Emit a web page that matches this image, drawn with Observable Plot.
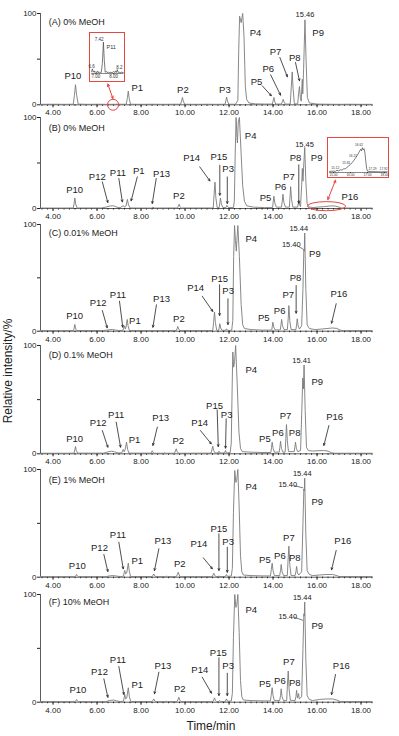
<!DOCTYPE html>
<html><head><meta charset="utf-8">
<script src="https://cdn.jsdelivr.net/npm/d3@7"></script>
<script src="https://cdn.jsdelivr.net/npm/@observablehq/plot@0.6"></script>
<style>
body{margin:0;background:#fff;font-family:"Liberation Sans",Arial,sans-serif;}
#wrap{position:relative;width:399px;height:736px;overflow:hidden;background:#fff;}
#wrap svg{position:absolute;}
#xt{position:absolute;left:0;width:422px;top:719px;text-align:center;font-size:12px;color:#222;}
#yt{position:absolute;left:-92px;top:364px;width:200px;text-align:center;font-size:12px;color:#222;transform:rotate(-90deg);}
</style></head><body><div id="wrap"><div id="xt">Time/min</div><div id="yt">Relative intensity/%</div></div>
<script>
// ---------- data ----------
const xTicks = [4, 6, 8, 10, 12, 14, 16, 18];
const yTicks = [0, 50, 100];
const yTickText = ["0", "", "100"];
const panelTitles = ["(A) 0% MeOH", "(B) 0% MeOH", "(C) 0.01% MeOH", "(D) 0.1% MeOH", "(E) 1% MeOH", "(F) 10% MeOH"];

// chromatogram traces: [time (min), relative intensity (%)]
const traceA = [[3.45,0.5],[4.0,0.6],[4.5,0.5],[4.92,0.6],[4.97,10],[5.02,22],[5.07,11],[5.14,0.8],[5.5,0.5],[6.0,0.6],[6.5,0.5],[7.0,0.6],[7.33,0.6],[7.38,8],[7.42,15],[7.46,7],[7.52,0.6],[8.0,0.5],[8.5,0.6],[9.0,0.5],[9.5,0.6],[9.8,0.6],[9.85,5],[9.88,8],[9.92,4],[9.98,0.6],[10.5,0.5],[11.0,0.6],[11.5,0.5],[11.82,0.6],[11.86,5],[11.89,8.5],[11.93,4],[11.99,0.6],[12.3,0.6],[12.4,5],[12.44,60],[12.48,97],[12.55,90],[12.62,100],[12.68,75],[12.74,20],[12.8,6],[12.9,2],[13.2,1],[13.6,0.8],[13.97,0.8],[14.01,5],[14.04,8],[14.07,4],[14.12,0.8],[14.38,0.8],[14.43,4],[14.46,6],[14.5,3],[14.56,0.8],[14.78,0.8],[14.83,20],[14.87,36],[14.91,18],[14.97,1],[15.12,1],[15.16,12],[15.2,20],[15.24,8],[15.28,4],[15.31,20],[15.33,28],[15.35,12],[15.39,40],[15.45,93],[15.5,50],[15.56,8],[15.65,2],[16.0,0.8],[16.5,0.6],[17.0,0.5],[17.5,0.6],[18.0,0.5],[18.5,0.5]];
const traceB = [[3.45,0.5],[4.5,0.5],[4.92,0.6],[4.96,6],[4.99,11.5],[5.03,5],[5.09,0.6],[6.2,0.6],[6.4,1.5],[6.6,2.8],[6.75,3],[6.9,1.5],[7.05,0.8],[7.15,2.5],[7.2,3],[7.25,1.5],[7.32,3],[7.38,10],[7.43,4],[7.5,0.6],[8.0,0.5],[8.5,0.5],[8.54,1.5],[8.6,0.5],[9.5,0.6],[9.66,0.6],[9.7,3],[9.73,4.7],[9.77,2],[9.83,0.6],[11.0,0.6],[11.28,0.6],[11.32,15],[11.36,29],[11.4,12],[11.46,1],[11.55,1],[11.58,6],[11.61,11.6],[11.65,5],[11.72,1],[11.86,1],[11.9,3.5],[11.93,2],[12.0,1],[12.2,1],[12.24,8],[12.28,60],[12.32,100],[12.36,78],[12.38,72],[12.42,95],[12.47,100],[12.55,60],[12.62,25],[12.7,8],[12.8,3],[13.1,1.5],[13.6,1],[13.98,1],[14.01,8],[14.04,13.5],[14.08,6],[14.15,1.5],[14.38,1.5],[14.42,8],[14.45,15.7],[14.49,7],[14.56,1.5],[14.74,1.5],[14.77,12],[14.8,24],[14.84,10],[14.9,1.5],[15.12,1.5],[15.15,6],[15.17,9],[15.2,4],[15.25,2],[15.3,25],[15.33,44],[15.36,30],[15.4,50],[15.44,67],[15.49,30],[15.55,5],[15.65,1.5],[15.85,1],[16.0,1.5],[16.3,2],[16.6,2.8],[16.8,2.8],[17.0,1.5],[17.1,0.6],[17.5,0.5],[18.5,0.5]];
const traceC = [[3.45,0.5],[4.5,0.5],[4.93,0.6],[4.96,3],[4.99,6.3],[5.02,3],[5.07,0.6],[6.3,0.6],[6.5,1.2],[6.7,1.6],[6.85,1],[7.0,0.6],[7.18,0.8],[7.22,3],[7.25,5],[7.29,2],[7.33,5],[7.37,11],[7.41,5],[7.47,0.6],[8.5,0.5],[8.54,0.8],[8.58,0.5],[9.6,0.6],[9.64,2.5],[9.67,4.4],[9.71,2],[9.77,0.6],[11.26,0.6],[11.3,9],[11.34,18],[11.38,8],[11.44,0.8],[11.53,0.8],[11.56,4],[11.58,7],[11.62,3],[11.68,0.8],[11.85,0.8],[11.88,2.2],[11.92,0.8],[12.12,0.8],[12.17,10],[12.21,70],[12.25,99],[12.29,85],[12.33,75],[12.37,90],[12.4,99],[12.47,70],[12.55,25],[12.62,6],[12.7,2.5],[13.0,1.5],[13.5,1],[13.94,1],[13.97,5],[13.99,8.4],[14.03,4],[14.09,1.2],[14.33,1.2],[14.36,6],[14.39,11],[14.43,5],[14.5,1.5],[14.65,1.5],[14.69,12],[14.72,24],[14.76,10],[14.82,1.5],[15.04,1.5],[15.07,6],[15.1,11.6],[15.14,5],[15.2,2],[15.3,5],[15.36,40],[15.4,77],[15.42,75],[15.44,92],[15.49,40],[15.55,6],[15.65,2.5],[15.9,1.5],[16.2,2],[16.5,2.6],[16.7,3],[16.9,2.6],[17.05,1],[17.2,0.5],[18.5,0.5]];
const traceD = [[3.45,0.5],[4.5,0.5],[4.95,0.6],[4.99,3.5],[5.02,6.7],[5.06,3],[5.12,0.6],[6.3,0.6],[6.5,1.8],[6.65,2.4],[6.8,1.8],[6.95,0.8],[7.12,0.8],[7.16,2.5],[7.19,4],[7.23,2],[7.28,4],[7.34,10.7],[7.39,4],[7.45,0.6],[8.44,0.6],[8.48,1.6],[8.51,2.8],[8.55,1.2],[8.6,0.5],[9.02,0.5],[9.07,1],[9.12,0.5],[9.52,0.5],[9.56,2.5],[9.6,4.6],[9.64,2],[9.7,0.5],[11.18,0.6],[11.22,3.5],[11.26,7],[11.3,3],[11.36,0.8],[11.5,0.8],[11.54,2.4],[11.58,0.8],[11.79,0.8],[11.84,3],[11.88,0.8],[12.05,1],[12.1,10],[12.14,60],[12.17,94],[12.21,80],[12.25,85],[12.3,100],[12.37,65],[12.45,20],[12.52,5],[12.6,2],[13.0,1.5],[13.5,1.2],[13.9,1.2],[13.93,6],[13.96,10.7],[14.0,5],[14.06,1.5],[14.28,1.5],[14.31,6],[14.34,11.6],[14.38,5],[14.45,1.5],[14.55,1.5],[14.58,14],[14.61,27],[14.65,12],[14.7,2],[14.96,2],[14.99,6],[15.02,10.7],[15.06,5],[15.12,2],[15.25,3],[15.3,35],[15.35,70],[15.38,60],[15.41,82],[15.46,40],[15.52,6],[15.6,3],[15.8,2.5],[16.0,2.8],[16.3,3],[16.5,2.5],[16.65,1],[16.8,0.5],[18.5,0.5]];
const traceE = [[3.45,0.5],[4.5,0.5],[5.0,0.5],[5.04,1.5],[5.07,2.5],[5.1,1.2],[5.15,0.5],[6.4,0.5],[6.6,1.3],[6.75,1.5],[6.9,1],[7.05,0.6],[7.2,0.8],[7.23,4],[7.26,6.2],[7.3,3],[7.35,4],[7.42,13],[7.47,5],[7.53,0.6],[8.5,0.6],[8.54,1.8],[8.58,3],[8.62,1.2],[8.68,0.5],[9.1,0.5],[9.15,1],[9.2,0.5],[9.6,0.5],[9.65,2.5],[9.69,4.6],[9.73,2],[9.79,0.5],[11.23,0.5],[11.27,2],[11.31,3.7],[11.35,1.5],[11.41,0.6],[11.5,0.6],[11.54,1],[11.58,0.6],[11.83,0.6],[11.88,2.5],[11.93,0.8],[12.1,1],[12.15,8],[12.2,60],[12.26,99],[12.31,88],[12.35,90],[12.4,100],[12.46,65],[12.52,20],[12.58,5],[12.65,2],[13.0,1.5],[13.5,1.2],[13.88,1.2],[13.92,7],[13.96,13],[14.0,6],[14.06,1.5],[14.3,1.5],[14.34,6],[14.37,11.8],[14.41,5],[14.48,1.5],[14.65,1.5],[14.68,15],[14.72,28.8],[14.76,12],[14.82,1.5],[15.0,1.5],[15.04,5],[15.07,10],[15.11,4],[15.17,2],[15.3,5],[15.36,50],[15.4,82],[15.42,80],[15.44,92],[15.49,40],[15.55,6],[15.65,2.5],[15.8,1.5],[16.1,2],[16.4,2.5],[16.7,2.5],[16.9,1.5],[17.0,0.6],[18.5,0.5]];
const traceF = [[3.45,0.5],[4.5,0.5],[5.0,0.5],[5.04,1.5],[5.07,2.5],[5.1,1.2],[5.15,0.5],[6.4,0.5],[6.55,1.5],[6.75,2],[6.9,1.2],[7.05,0.6],[7.2,0.8],[7.23,4],[7.26,7],[7.3,3],[7.35,4],[7.42,13.4],[7.47,5],[7.53,0.6],[8.5,0.6],[8.54,1.8],[8.58,3],[8.62,1.2],[8.68,0.5],[9.1,0.5],[9.15,1],[9.2,0.5],[9.63,0.5],[9.68,2.5],[9.72,4.6],[9.76,2],[9.82,0.5],[11.26,0.5],[11.3,2],[11.34,4],[11.38,1.5],[11.44,0.6],[11.53,0.6],[11.58,1.5],[11.62,0.6],[11.83,0.6],[11.88,3],[11.93,0.8],[12.1,1],[12.15,8],[12.2,60],[12.26,100],[12.31,88],[12.35,90],[12.4,100],[12.46,65],[12.52,20],[12.58,5],[12.65,2],[13.0,1.5],[13.5,1.2],[13.88,1.2],[13.92,7],[13.96,13.4],[14.0,6],[14.06,1.5],[14.3,1.5],[14.34,6],[14.37,12.4],[14.41,5],[14.48,1.5],[14.62,1.5],[14.65,15],[14.69,29],[14.73,12],[14.79,1.5],[15.0,1.5],[15.04,5],[15.07,11],[15.11,4],[15.14,6],[15.16,8],[15.19,3],[15.3,5],[15.36,50],[15.4,82],[15.42,80],[15.44,93],[15.49,40],[15.55,6],[15.65,2.5],[15.8,1.5],[16.1,2.5],[16.4,3],[16.7,3],[16.9,2],[17.05,0.6],[18.5,0.5]];

// inset traces
const insetTraceA = [[6.75,5],[6.8,14],[6.85,4],[6.9,8],[6.95,3],[7.0,6],[7.05,2],[7.1,7],[7.15,2],[7.2,5],[7.25,2],[7.3,3],[7.36,30],[7.42,95],[7.47,40],[7.52,4],[7.6,6],[7.65,2],[7.7,5],[7.75,2],[7.85,4],[7.9,2],[8.0,6],[8.05,3],[8.1,8],[8.15,3],[8.2,12],[8.25,3],[8.3,5],[8.35,2],[8.45,4],[8.55,2]];
const insetTraceB = [[14.76,4],[15.0,5],[15.1,4],[15.2,8],[15.3,6],[15.4,10],[15.5,9],[15.6,14],[15.7,13],[15.8,20],[15.9,25],[16.0,30],[16.1,37],[16.2,45],[16.3,54],[16.4,64],[16.5,75],[16.6,86],[16.65,80],[16.7,92],[16.75,84],[16.8,88],[16.85,72],[16.9,42],[16.95,15],[17.0,5],[17.2,3],[17.5,3],[17.8,2],[18.0,3],[18.18,2]];
const insetTicksA = [7, 8];
const insetTicksB = [15, 16, 17, 18];

// annotations: [text, time, intensity] and arrows [t1, y1, t2, y2]
const titlePos = [[3.81,91],[3.81,88],[3.81,92.2],[3.81,91.4],[3.81,89.8],[3.81,92.9]];
const labelsA = [["P10",4.9,31.8],["P1",7.83,18.3],["P2",9.9,16],["P3",11.81,16],["P4",13.2,78.5],["P5",13.25,25.2],["P6",13.78,39],["P7",14.11,58.4],["P8",14.99,51.8],["P9",16.05,79.2]];
const labelsB = [["P10",4.98,20.9],["P12",6.01,34.7],["P11",6.95,39.6],["P1",7.9,41],["P13",8.93,38.5],["P2",9.72,13.5],["P14",10.3,55],["P15",11.54,56.7],["P3",11.96,43.2],["P4",12.98,79.8],["P5",13.66,12],["P6",14.34,23.7],["P7",14.72,34.7],["P8",15.02,55],["P9",15.98,55],["P16",17.49,12.7]];
const labelsC = [["P10",4.98,14],["P12",6.05,26.6],["P11",6.95,33.5],["P1",7.72,10],["P13",8.93,30.4],["P2",9.72,11.6],["P14",10.48,40.7],["P15",11.57,49],["P3",11.96,38],["P4",13.01,86],["P5",13.58,12.2],["P6",14.3,19.4],["P7",14.69,33.5],["P8",15.02,50],["P9",15.9,72.5],["P16",16.99,35]];
const labelsD = [["P4",13.01,77.8],["P9",16.01,66.8],["P10",4.98,13.8],["P12",6.05,28.6],["P11",6.87,36.3],["P1",7.7,12.9],["P13",8.89,33.2],["P2",9.69,11.6],["P14",10.66,28.6],["P15",11.34,44.6],["P3",11.89,36.3],["P5",13.63,13.8],["P6",14.22,19.4],["P7",14.57,35.4],["P8",14.98,19],["P16",16.8,33.8]];
const labelsE = [["P4",13.01,84.2],["P9",16.01,70.3],["P10",5.1,10.2],["P12",6.11,27.3],["P11",6.95,39.4],["P1",7.83,15.5],["P13",8.99,33.4],["P2",9.76,12.4],["P14",10.63,30.4],["P15",11.54,44.9],["P3",11.96,32.5],["P5",13.63,16.2],["P6",14.31,19.5],["P7",14.72,36.6],["P8",14.99,18],["P16",17.17,33.4]];
const labelsF = [["P4",13.01,85.8],["P9",16.01,71.2],["P10",5.13,10.9],["P12",6.11,27.9],["P11",6.95,39.4],["P1",7.83,16.4],["P13",8.99,34.1],["P2",9.76,12.4],["P14",10.67,30.1],["P15",11.51,45.5],["P3",11.96,33.4],["P5",13.63,17],["P6",14.31,20.1],["P7",14.72,37.1],["P8",14.99,17.6],["P16",17.1,34.1]];
const rtA = [["15.46",15.45,98.6]];
const rtB = [["15.45",15.43,70.7]];
const rtC = [["15.44",15.17,96],["15.40",14.83,81.3]];
const rtD = [["15.41",15.3,86.1]];
const rtE = [["15.44",15.33,96],["15.40",14.67,86.1]];
const rtF = [["15.44",15.33,97],["15.40",14.67,79.9]];
const arrowsA = [[13.51,20.8,13.92,9.9],[13.89,32.9,14.34,10.6],[14.31,51.8,14.65,30.7],[15.02,46.3,15.2,26.3]];
const arrowsB = [[6.24,29.2,6.49,6.6],[6.99,33,7.15,7.3],[7.83,34.7,7.55,8.4],[8.69,33,8.51,5.5],[10.67,45.7,11.13,30.3],[11.58,47.6,11.58,14.6],[11.92,34.7,11.92,5.5],[15.17,48,15.17,5.8]];
const arrowsC = [[6.24,19.4,6.46,3.2],[7.02,28.1,7.17,3.7],[8.7,24.7,8.54,3.7],[10.78,32.8,11.26,18.5],[11.57,43.5,11.57,14.7],[11.95,30.4,11.95,6.3],[15.05,42.8,15.05,16.9],[16.87,25.7,16.66,7.5]];
const arrowsD = [[6.24,21.5,6.49,6.1],[6.87,29.2,7.07,6.1],[8.74,24.6,8.54,7.7],[10.7,21.5,11.19,9.2],[11.46,40.6,11.51,6.7],[11.87,32.3,11.84,5.2],[16.54,26.1,16.31,7.7]];
const arrowsE = [[6.31,21.1,6.49,5.3],[6.99,32.5,7.19,7.8],[8.81,26.4,8.61,6.2],[10.83,18,11.24,7.8],[11.54,40.3,11.54,6.2],[11.92,27.9,11.92,4.6],[16.87,24.8,16.66,6.9]];
const arrowsF = [[6.31,21.7,6.49,4.6],[6.99,33.1,7.22,7.1],[8.81,27.9,8.61,7.8],[10.78,23.2,11.2,8.4],[11.54,41.2,11.54,6.2],[11.92,26.9,11.92,6.2],[16.84,25.7,16.66,7.1]];
const leadersC = [[15.06,80.5,15.36,77]];
const leadersE = [[14.95,85,15.36,83]];
const leadersF = [[14.95,79,15.36,76]];
const insetLabelsA = [["7.42",7.18,104],["P11",7.86,80],["6.6",6.76,22],["8.2",8.32,17]];
const insetLabelsB = [["15.12",15.1,16],["15.81",15.75,34],["16.21",16.15,60],["16.62",16.5,102],["17.29",17.3,12],["17.92",17.95,12]];
// red highlight marks: [t, y, rx (min), ry (%)] and double arrows [t1,y1,t2,y2]
const circleA = [6.75,-0.5,0.25,6];
const ellipseB = [16.45,2,0.87,5];
const redArrowA = [6.49,22.7,6.72,6.9];
const redArrowB = [16.49,9.9,16.84,31.1];

// ---------- drawing ----------
const FONT = "Liberation Sans, Arial, sans-serif";
const RED = "#e5483f";
const X_DOMAIN = [3.43, 18.52];
const xMinor = d3.range(3.5, 18.51, 0.25);
const wrap = document.getElementById("wrap");
const pos = [[12.7,104],[117.3,208.3],[224,330.7],[345,453.3],[469,576.7],[594,701.7]];
const panels = [
  {trace: traceA, labels: labelsA, rt: rtA, arrows: arrowsA, leaders: []},
  {trace: traceB, labels: labelsB, rt: rtB, arrows: arrowsB, leaders: []},
  {trace: traceC, labels: labelsC, rt: rtC, arrows: arrowsC, leaders: leadersC},
  {trace: traceD, labels: labelsD, rt: rtD, arrows: arrowsD, leaders: []},
  {trace: traceE, labels: labelsE, rt: rtE, arrows: arrowsE, leaders: leadersE},
  {trace: traceF, labels: labelsF, rt: rtF, arrows: arrowsF, leaders: leadersF}
];

function ellipseMark(e) {
  return (index, scales) => {
    const cx = scales.x(e[0]), cy = scales.y(e[1]);
    const rx = Math.abs(scales.x(e[0] + e[2]) - cx), ry = Math.abs(scales.y(e[1] + e[3]) - cy);
    return d3.create("svg:ellipse").attr("cx", cx).attr("cy", cy).attr("rx", rx).attr("ry", ry)
      .attr("fill", "none").attr("stroke", RED).attr("stroke-width", 1).node();
  };
}
function doubleArrow(a) {
  const m = [(a[0] + a[2]) / 2, (a[1] + a[3]) / 2];
  return Plot.arrow([[m[0], m[1], a[0], a[1]], [m[0], m[1], a[2], a[3]]], {
    x1: d => d[0], y1: d => d[1], x2: d => d[2], y2: d => d[3],
    stroke: RED, strokeWidth: 1, headLength: 4, headAngle: 55
  });
}

panels.forEach((p, i) => {
  const [y100, y0] = pos[i];
  const mt = 14, mb = 16;
  const extra = [];
  if (i === 0) extra.push(ellipseMark(circleA), doubleArrow(redArrowA));
  if (i === 1) extra.push(ellipseMark(ellipseB), doubleArrow(redArrowB));
  const svg = Plot.plot({
    width: 399, height: mt + (y0 - y100) + mb,
    marginLeft: 40, marginRight: 27, marginTop: mt, marginBottom: mb,
    style: {background: "transparent", overflow: "visible", fontFamily: FONT, fontSize: "8px", color: "#222"},
    x: {domain: X_DOMAIN}, y: {domain: [0, 100]},
    marks: [
      Plot.ruleY([0], {stroke: "#333", strokeWidth: 0.8}),
      Plot.ruleX([X_DOMAIN[0]], {y1: 0, y2: 100, stroke: "#333", strokeWidth: 0.8}),
      Plot.axisY({ticks: yTicks, tickSize: 3, tickPadding: 1, tickFormat: d => yTickText[yTicks.indexOf(d)], label: null, fontSize: 8}),
      Plot.axisX({ticks: xTicks, tickSize: 3, tickPadding: 2, tickFormat: d => d.toFixed(2), label: null, fontSize: 8}),
      Plot.axisX({ticks: xMinor, tickSize: 1.5, tickFormat: () => "", label: null}),
      Plot.line(p.trace, {x: d => d[0], y: d => d[1], stroke: "#7a7a7a", strokeWidth: 0.9}),
      Plot.text([panelTitles[i]], {x: titlePos[i][0], y: titlePos[i][1], text: d => d, textAnchor: "start", fontSize: 9, fill: "#222"}),
      Plot.text(p.labels, {x: d => d[1], y: d => d[2], text: d => d[0], fontSize: 9.5, fill: "#222"}),
      Plot.text(p.rt, {x: d => d[1], y: d => d[2], text: d => d[0], fontSize: 7.5, fill: "#222"}),
      Plot.arrow(p.arrows, {x1: d => d[0], y1: d => d[1], x2: d => d[2], y2: d => d[3], stroke: "#222", strokeWidth: 0.8, headLength: 4, headAngle: 50}),
      Plot.link(p.leaders, {x1: d => d[0], y1: d => d[1], x2: d => d[2], y2: d => d[3], stroke: "#222", strokeWidth: 0.6}),
      ...extra
    ]
  });
  svg.style.left = "0px";
  svg.style.top = (y100 - mt) + "px";
  wrap.append(svg);
});

function inset(trace, ticks, labels, domain, left, top, w, h, mt, mb, fs) {
  const svg = Plot.plot({
    width: w, height: h, marginLeft: 1, marginRight: 1, marginTop: mt, marginBottom: mb,
    style: {background: "white", border: "1px solid " + RED, overflow: "visible", fontFamily: FONT, fontSize: fs + "px", color: "#333"},
    x: {domain}, y: {domain: [0, 100], axis: null},
    marks: [
      Plot.ruleY([0], {stroke: "#444", strokeWidth: 0.5}),
      Plot.axisX({ticks, tickSize: 1.2, tickPadding: 0.5, tickFormat: d => d.toFixed(2), label: null, fontSize: fs}),
      Plot.axisX({ticks: d3.range(Math.ceil(domain[0] * 10) / 10, domain[1], 0.1), tickSize: 0.8, tickFormat: () => "", label: null, strokeWidth: 0.5}),
      Plot.line(trace, {x: d => d[0], y: d => d[1], stroke: "#444", strokeWidth: 0.7}),
      Plot.text(labels, {x: d => d[1], y: d => d[2], text: d => d[0], fontSize: d => d[0].startsWith("P") ? 5.5 : fs, fill: "#333"})
    ]
  });
  svg.style.left = left + "px";
  svg.style.top = top + "px";
  wrap.append(svg);
}
inset(insetTraceA, insetTicksA, insetLabelsA, [6.75, 8.55], 89, 32, 34, 48, 7, 8, 4.5);
inset(insetTraceB, insetTicksB, insetLabelsB, [14.76, 18.18], 327, 137, 60, 39, 7, 5, 3.2);
</script>
</body></html>
